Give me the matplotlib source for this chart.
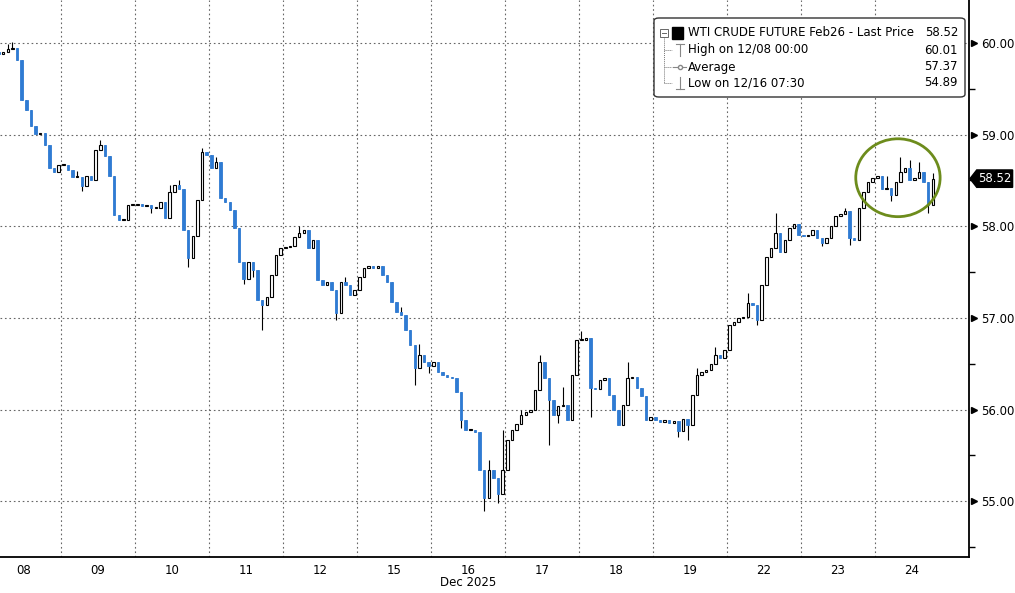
import numpy as np
import matplotlib.pyplot as plt
import matplotlib.transforms as mtransforms
from matplotlib.patches import Ellipse, FancyBboxPatch, Polygon, Rectangle

# ── Data (30-min bars, closes) ────────────────────────────────────────────────
day_labels = ["08", "09", "10", "11", "12", "15", "16", "17", "18", "19", "22", "23", "24"]

c08 = [59.86, 59.90, 59.88, 59.90, 59.93, 59.95, 59.82, 59.38, 59.27, 59.10, 59.01, 59.02, 58.89, 58.64, 58.59, 58.67]
c09 = [58.67, 58.61, 58.54, 58.54, 58.44, 58.55, 58.50, 58.83, 58.89, 58.77, 58.55, 58.12, 58.07, 58.07, 58.23, 58.23]
c10 = [58.24, 58.22, 58.23, 58.20, 58.20, 58.26, 58.09, 58.37, 58.45, 58.41, 57.96, 57.65, 57.89, 58.29, 58.81, 58.78]
c11 = [58.64, 58.70, 58.31, 58.26, 58.18, 57.98, 57.61, 57.43, 57.61, 57.52, 57.19, 57.14, 57.23, 57.47, 57.69, 57.76]
c12 = [57.77, 57.79, 57.88, 57.93, 57.96, 57.76, 57.85, 57.41, 57.36, 57.39, 57.30, 57.05, 57.39, 57.36, 57.25, 57.30]
c15 = [57.45, 57.54, 57.57, 57.54, 57.57, 57.47, 57.39, 57.17, 57.06, 57.03, 56.87, 56.70, 56.45, 56.59, 56.52, 56.48]
c16 = [56.52, 56.41, 56.38, 56.36, 56.34, 56.19, 55.88, 55.78, 55.78, 55.75, 55.34, 55.03, 55.34, 55.25, 55.08, 55.34]
c17 = [55.67, 55.78, 55.84, 55.94, 55.97, 55.99, 56.21, 56.52, 56.34, 56.10, 55.94, 56.04, 56.05, 55.88, 56.38, 56.76]
c18 = [56.76, 56.78, 56.24, 56.22, 56.32, 56.34, 56.16, 55.99, 55.83, 56.05, 56.34, 56.36, 56.23, 56.15, 55.88, 55.92]
c19 = [55.88, 55.86, 55.88, 55.85, 55.87, 55.77, 55.90, 55.83, 56.16, 56.38, 56.41, 56.43, 56.50, 56.59, 56.56, 56.65]
c22 = [56.92, 56.95, 57.00, 57.01, 57.16, 57.14, 56.98, 57.36, 57.67, 57.76, 57.93, 57.72, 57.85, 57.98, 58.02, 57.91]
c23 = [57.89, 57.91, 57.96, 57.87, 57.82, 57.87, 58.00, 58.11, 58.13, 58.17, 57.87, 57.85, 58.20, 58.37, 58.48, 58.53]
c24 = [58.55, 58.41, 58.42, 58.34, 58.48, 58.59, 58.64, 58.50, 58.53, 58.59, 58.48, 58.23, 58.52]
first_open = 59.85

# visible wick extremes, keyed by (day index, bar in day)
wick_highs = {(0, 4): 59.99, (0, 5): 60.01, (1, 3): 58.60, (1, 8): 58.94, (1, 9): 58.85,
              (2, 7): 58.45, (2, 9): 58.50, (2, 14): 58.85, (3, 1): 58.76,
              (4, 3): 58.00, (4, 13): 57.45, (5, 9): 57.12, (5, 13): 56.72,
              (6, 12): 55.45, (6, 15): 55.78, (7, 3): 56.00, (7, 7): 56.60,
              (7, 12): 56.25, (8, 0): 56.86, (8, 10): 56.52, (9, 9): 56.45,
              (9, 13): 56.68, (10, 4): 57.27, (10, 10): 58.14, (11, 9): 58.20,
              (12, 2): 58.55, (12, 5): 58.76, (12, 7): 58.72, (12, 9): 58.70,
              (12, 12): 58.58}
wick_lows = {(1, 4): 58.38, (2, 3): 58.15, (2, 11): 57.56, (3, 7): 57.37,
             (3, 9): 57.45, (3, 11): 56.87, (4, 11): 56.98, (5, 12): 56.27,
             (5, 15): 56.40, (6, 6): 55.80, (6, 11): 54.89, (6, 14): 54.98,
             (7, 9): 55.61, (7, 11): 55.85, (8, 2): 55.92, (9, 5): 55.70,
             (9, 7): 55.67, (10, 6): 56.92, (11, 4): 57.78, (11, 10): 57.80,
             (12, 3): 58.28, (12, 11): 58.15}

legend_labels = ["WTI CRUDE FUTURE Feb26 - Last Price", "High on 12/08 00:00",
                 "Average", "Low on 12/16 07:30"]
legend_values = ["58.52", "60.01", "57.37", "54.89"]
last_price = 58.52
y_ticks = [55, 56, 57, 58, 59, 60]

# ── Build OHLC ────────────────────────────────────────────────────────────────
bars_per_day = 16
days = [c08, c09, c10, c11, c12, c15, c16, c17, c18, c19, c22, c23, c24]
xs, closes, keys = [], [], []
for d, vals in enumerate(days):
    for k, v in enumerate(vals):
        xs.append(d + (k + 0.5) / bars_per_day)
        closes.append(v)
        keys.append((d, k))
xs = np.array(xs)
closes = np.array(closes)
opens = np.r_[first_open, closes[:-1]]
highs = np.maximum(opens, closes)
lows = np.minimum(opens, closes)
for i, key in enumerate(keys):
    if key in wick_highs:
        highs[i] = max(highs[i], wick_highs[key])
    if key in wick_lows:
        lows[i] = min(lows[i], wick_lows[key])

up = closes >= opens
dn = ~up
BLUE = "#2f7bd3"
FS = 8.5

# ── Figure ────────────────────────────────────────────────────────────────────
plt.rcParams["font.family"] = "DejaVu Sans"
fig = plt.figure(figsize=(10.15, 5.93), dpi=100)
ax = fig.add_axes([0, 36 / 593, 969 / 1015, 557 / 593])

ax.set_xlim(13 / 74, 982 / 74)
ax.set_ylim(54.39, 60.47)

# grid
grid_kw = dict(color="#666666", linestyle=(0, (1.5, 2.5)), linewidth=0.8, zorder=0)
for b in range(1, len(day_labels)):
    ax.axvline(b, **grid_kw)
for v in y_ticks:
    ax.axhline(v, **grid_kw)

# candles
ax.vlines(xs, lows, highs, color="black", linewidth=0.8, zorder=2)
body = np.abs(closes - opens)
body = np.where(body < 0.008, 0.008, body)
ax.bar(xs[up], body[up], bottom=opens[up], width=0.034, color="white",
       edgecolor="black", linewidth=0.8, zorder=3)
ax.bar(xs[dn], body[dn], bottom=closes[dn], width=0.034, color=BLUE,
       edgecolor=BLUE, linewidth=0.6, zorder=3)

# green circle around the last day
ax.add_patch(Ellipse((12.31, 58.53), 1.14, 0.85, fill=False,
                     edgecolor="#6d8c1c", linewidth=2.0, zorder=5))

# spines / ticks
for s in ["top", "left"]:
    ax.spines[s].set_visible(False)
for s in ["right", "bottom"]:
    ax.spines[s].set_linewidth(1.3)
ax.yaxis.tick_right()
ax.set_yticks(y_ticks)
ax.set_yticklabels([f"{v:.2f}" for v in y_ticks], fontsize=FS)
ax.set_yticks(np.arange(54.5, 60.5, 1.0), minor=True)
ax.tick_params(axis="y", which="major", length=0, pad=9)
ax.tick_params(axis="y", which="minor", length=4, width=1)
ax.set_xticks(np.arange(len(day_labels)) + 0.5)
ax.set_xticklabels(day_labels, fontsize=FS)
ax.tick_params(axis="x", length=0, pad=5)

# arrow-head major ticks on the price axis
yblend = mtransforms.blended_transform_factory(ax.transAxes, ax.transData)
for v in y_ticks:
    ax.plot([1.005], [v], marker=">", markersize=5, color="black",
            transform=yblend, clip_on=False)

xblend = mtransforms.blended_transform_factory(ax.transData, ax.transAxes)
ax.text(6.5, -0.046, "Dec 2025", transform=xblend, ha="center", va="center", fontsize=FS)

# last price tag
h = 0.095
tag = Polygon([(1.001, last_price), (1.008, last_price + h), (1.045, last_price + h),
               (1.045, last_price - h), (1.008, last_price - h)],
              closed=True, facecolor="black", edgecolor="black",
              transform=yblend, clip_on=False, zorder=6)
ax.add_patch(tag)
ax.text(1.027, last_price, f"{last_price:.2f}", color="white", fontsize=FS,
        ha="center", va="center", transform=yblend, zorder=7)

# ── Legend box ────────────────────────────────────────────────────────────────
def axx(px):
    return px / 969


def axy(py):
    return 1 - py / 557


ax.add_patch(FancyBboxPatch((axx(654), axy(97)), axx(965) - axx(654), axy(18) - axy(97),
                            boxstyle="round,pad=0,rounding_size=0.005",
                            facecolor="white", edgecolor="#333333", linewidth=1.0,
                            transform=ax.transAxes, zorder=8))
rows_y = [33, 50, 67, 83]
for lab, val, ry in zip(legend_labels, legend_values, rows_y):
    ax.text(axx(688), axy(ry), lab, fontsize=FS, va="center", ha="left",
            transform=ax.transAxes, zorder=9)
    ax.text(axx(958), axy(ry), val, fontsize=FS, va="center", ha="right",
            transform=ax.transAxes, zorder=9)

# tree lines and icons
ax.plot([axx(664)] * 2, [axy(37), axy(83)], color="#777777", linewidth=0.7,
        linestyle=(0, (1, 1)), transform=ax.transAxes, zorder=9)
for ry in rows_y[1:]:
    ax.plot([axx(664), axx(672)], [axy(ry)] * 2, color="#777777", linewidth=0.7,
            linestyle=(0, (1, 1)), transform=ax.transAxes, zorder=9)
ax.add_patch(Rectangle((axx(660), axy(37)), axx(8), 8 / 557, facecolor="white",
                       edgecolor="#666666", linewidth=0.7, transform=ax.transAxes, zorder=10))
ax.plot([axx(662), axx(666)], [axy(33)] * 2, color="#666666", linewidth=0.7,
        transform=ax.transAxes, zorder=11)
ax.add_patch(Rectangle((axx(672), axy(39)), axx(11), 12 / 557, facecolor="black",
                       edgecolor="black", transform=ax.transAxes, zorder=10))
# high icon
ax.plot([axx(680)] * 2, [axy(44), axy(56)], color="#888888", linewidth=0.8,
        transform=ax.transAxes, zorder=10)
ax.plot([axx(676), axx(684)], [axy(44)] * 2, color="#888888", linewidth=0.8,
        transform=ax.transAxes, zorder=10)
# average icon
ax.plot([axx(673), axx(686)], [axy(67)] * 2, color="#888888", linewidth=0.8,
        transform=ax.transAxes, zorder=10)
ax.plot([axx(679.5)], [axy(67)], marker="o", markersize=3, markerfacecolor="white",
        markeredgecolor="#888888", transform=ax.transAxes, zorder=11)
# low icon
ax.plot([axx(680)] * 2, [axy(77), axy(89)], color="#888888", linewidth=0.8,
        transform=ax.transAxes, zorder=10)
ax.plot([axx(676), axx(684)], [axy(89)] * 2, color="#888888", linewidth=0.8,
        transform=ax.transAxes, zorder=10)

fig.savefig("out.png", dpi=100)
